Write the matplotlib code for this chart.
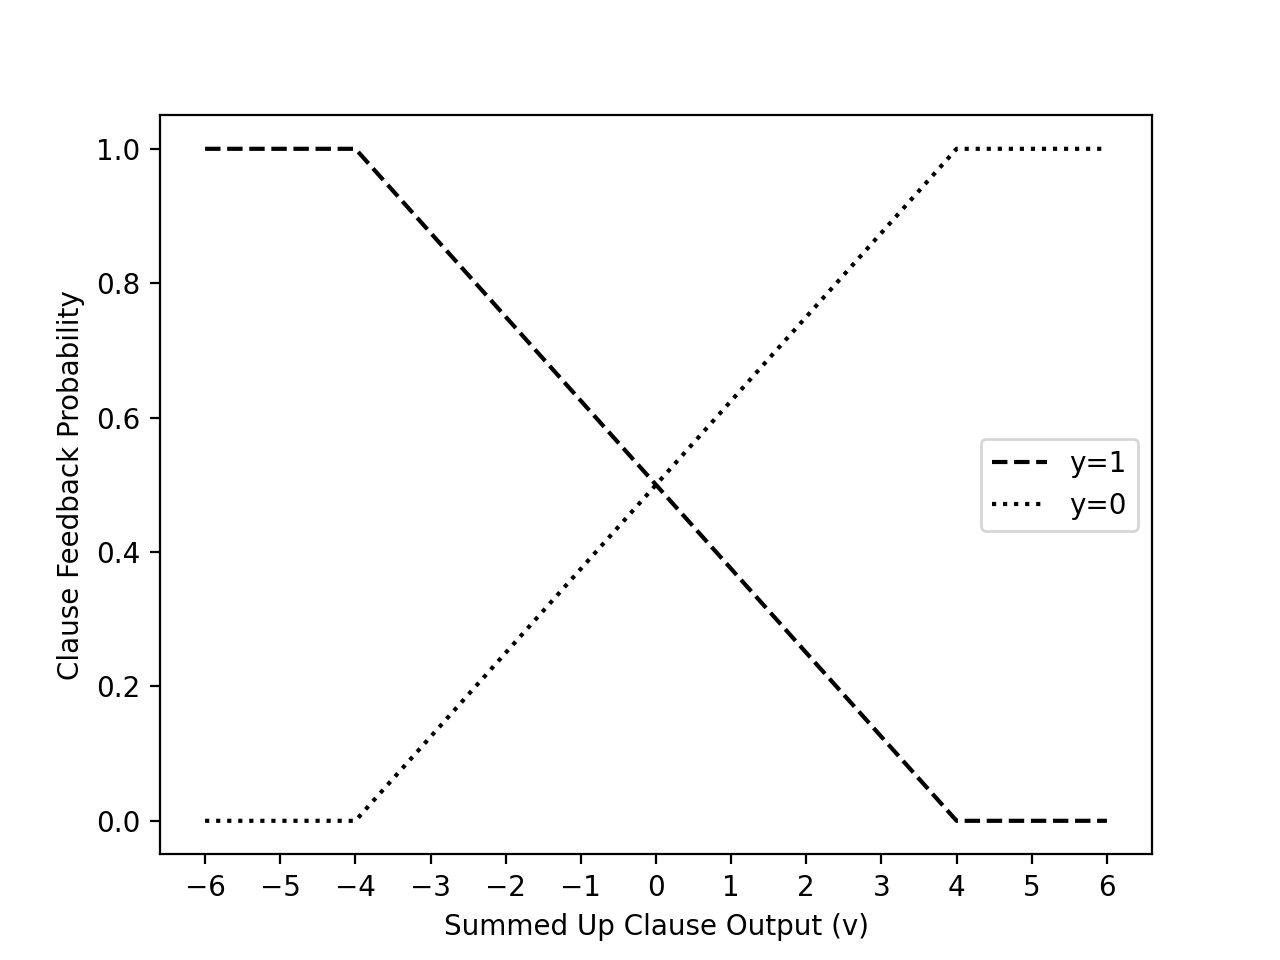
import matplotlib
matplotlib.use("Agg")
import matplotlib.pyplot as plt

# Summed up clause output and feedback probabilities
v = [-6, -5, -4, -3, -2, -1, 0, 1, 2, 3, 4, 5, 6]
p_y1 = [1.0, 1.0, 1.0, 0.875, 0.75, 0.625, 0.5, 0.375, 0.25, 0.125, 0.0, 0.0, 0.0]
p_y0 = [0.0, 0.0, 0.0, 0.125, 0.25, 0.375, 0.5, 0.625, 0.75, 0.875, 1.0, 1.0, 1.0]

fig = plt.figure(figsize=(6.4, 4.8), dpi=200)

plt.plot(v, p_y1, 'k--', label='y=1')
plt.plot(v, p_y0, 'k:', label='y=0')

plt.xticks(v)
plt.xlabel("Summed Up Clause Output (v)")
plt.ylabel("Clause Feedback Probability")
plt.legend(loc='center right')

plt.savefig("out.png")
plt.close()
